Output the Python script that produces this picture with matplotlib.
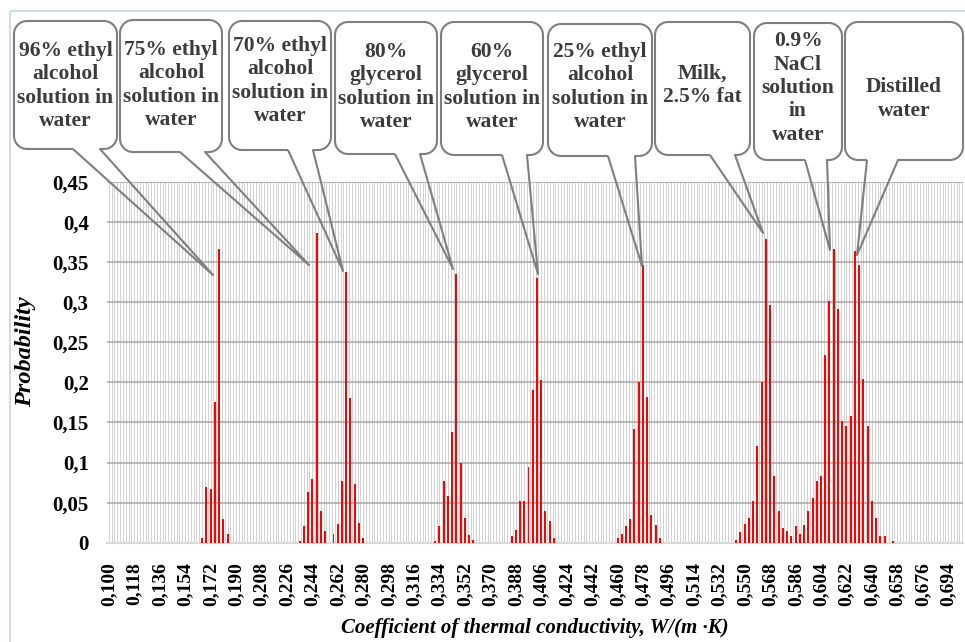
import numpy as np
import matplotlib

matplotlib.use("Agg")

import matplotlib.pyplot as plt
from matplotlib.path import Path
from matplotlib.patches import PathPatch, Rectangle
from matplotlib.ticker import MultipleLocator
import matplotlib.transforms as mtransforms

plt.rcParams["font.family"] = ["Liberation Serif", "DejaVu Serif"]
plt.rcParams["font.weight"] = "bold"

W, H = 965, 642

# histogram bins (thermal conductivity, W/(m K)) and probabilities
alc96_x = [0.166, 0.169, 0.172, 0.175, 0.178, 0.181, 0.184]
alc96_p = [0.0055, 0.070, 0.067, 0.175, 0.366, 0.029, 0.0105]

alc75_x = [0.235, 0.238, 0.241, 0.244, 0.247, 0.250, 0.253]
alc75_p = [0.002, 0.021, 0.063, 0.079, 0.386, 0.039, 0.015]

alc70_x = [0.259, 0.262, 0.265, 0.268, 0.271, 0.274, 0.277, 0.280]
alc70_p = [0.0105, 0.023, 0.077, 0.338, 0.181, 0.073, 0.025, 0.0055]

gly80_x = [0.331, 0.334, 0.337, 0.340, 0.343, 0.346, 0.349, 0.352, 0.355, 0.358]
gly80_p = [0.002, 0.021, 0.077, 0.058, 0.138, 0.335, 0.099, 0.031, 0.010, 0.003]

gly60_x = [0.385, 0.388, 0.391, 0.394, 0.397, 0.400, 0.403, 0.406, 0.409, 0.412, 0.415]
gly60_p = [0.0085, 0.016, 0.052, 0.052, 0.094, 0.190, 0.330, 0.2025, 0.0395, 0.027, 0.006]

alc25_x = [0.460, 0.463, 0.466, 0.469, 0.472, 0.475, 0.478, 0.481, 0.484, 0.487, 0.490]
alc25_p = [0.006, 0.0105, 0.021, 0.030, 0.142, 0.200, 0.346, 0.182, 0.0345, 0.0225, 0.006]

milk_x = [0.544, 0.547, 0.550, 0.553, 0.556, 0.559, 0.562, 0.565, 0.568, 0.571,
          0.574, 0.577, 0.580, 0.583]
milk_p = [0.0034, 0.013, 0.023, 0.031, 0.0516, 0.121, 0.200, 0.3795, 0.296, 0.083,
          0.039, 0.018, 0.014, 0.008]

# 0.9% NaCl and distilled water overlap into one cluster
water_x = [0.586, 0.589, 0.592, 0.595, 0.598, 0.601, 0.604, 0.607, 0.610, 0.613,
           0.616, 0.619, 0.622, 0.625, 0.628, 0.631, 0.634, 0.637, 0.640, 0.643,
           0.646, 0.649, 0.655]
water_p = [0.021, 0.0105, 0.022, 0.039, 0.056, 0.077, 0.083, 0.234, 0.302, 0.3666,
           0.292, 0.152, 0.1455, 0.158, 0.3633, 0.3463, 0.204, 0.1455, 0.0516, 0.031,
           0.008, 0.008, 0.002]

y_ticks = [0, 0.05, 0.1, 0.15, 0.2, 0.25, 0.3, 0.35, 0.4, 0.45]
y_labels = ["0", "0,05", "0,1", "0,15", "0,2", "0,25", "0,3", "0,35", "0,4", "0,45"]

x_ticks = [0.100, 0.118, 0.136, 0.154, 0.172, 0.190, 0.208, 0.226, 0.244, 0.262,
           0.280, 0.298, 0.316, 0.334, 0.352, 0.370, 0.388, 0.406, 0.424, 0.442,
           0.460, 0.478, 0.496, 0.514, 0.532, 0.550, 0.568, 0.586, 0.604, 0.622,
           0.640, 0.658, 0.676, 0.694]
x_labels = [f"{v:.3f}".replace(".", ",") for v in x_ticks]

# callouts: text, box (x0, y0, x1, y1) in pixels from top-left, tail base, tail tip, text y
callouts = [
    ("96% ethyl\nalcohol\nsolution in\nwater", (14, 21, 117, 149), (73, 100), (213, 275), 86),
    ("75% ethyl\nalcohol\nsolution in\nwater", (120, 20, 222, 152), (180, 205), (309, 265), 85),
    ("70% ethyl\nalcohol\nsolution in\nwater", (229, 21, 331, 150), (288, 313), (343, 271), 81),
    ("80%\nglycerol\nsolution in\nwater", (335, 22, 437, 154), (395, 420), (453, 269), 87),
    ("60%\nglycerol\nsolution in\nwater", (441, 22, 543, 155), (502, 527), (538, 274), 87),
    ("25% ethyl\nalcohol\nsolution in\nwater", (548, 24, 652, 156), (608, 635), (642, 266), 87),
    ("Milk,\n2.5% fat", (655, 22, 750, 155), (710, 735), (763, 233), 85),
    ("0.9%\nNaCl\nsolution\nin\nwater", (754, 23, 842, 160), (805, 827), (830, 250), 88),
    ("Distilled\nwater", (845, 22, 963, 160), (867, 898), (857, 255), 99),
]

fig = plt.figure(figsize=(W / 100, H / 100), dpi=100)
ax = fig.add_axes([106.7 / W, 1 - 542.7 / H, (963 - 106.7) / W, (542.7 - 182) / H])

for xs, ps in [(alc96_x, alc96_p), (alc75_x, alc75_p), (alc70_x, alc70_p),
               (gly80_x, gly80_p), (gly60_x, gly60_p), (alc25_x, alc25_p),
               (milk_x, milk_p), (water_x, water_p)]:
    ax.bar(xs, ps, width=0.0014, color="#ff0000", linewidth=0, zorder=3)

ax.set_xlim(0.0985, 0.7045)
ax.set_ylim(0, 0.45)
ax.set_axisbelow(True)

ax.set_yticks(y_ticks)
ax.set_yticklabels(y_labels, fontsize=15)
ax.set_xticks(x_ticks)
ax.set_xticklabels(x_labels, fontsize=14, rotation=90)
ax.xaxis.set_minor_locator(MultipleLocator(0.002))
ax.tick_params(axis="y", length=0, pad=13)
ax.tick_params(axis="x", which="both", length=0, pad=14)

ax.grid(axis="y", color="#a6a6a6", linewidth=1.1)
ax.grid(axis="x", which="both", color="#d2d2d2", linewidth=0.75)

for side in ["top", "right", "left"]:
    ax.spines[side].set_visible(False)
ax.spines["bottom"].set_color("#d9d9d9")
ax.spines["bottom"].set_linewidth(1.5)

ax.set_ylabel("Probability", fontsize=17.5, style="italic", fontweight="bold")
ax.yaxis.set_label_coords(-0.083, 0.53)
fig.text(535 / W, 1 - 628 / H, "Coefficient of thermal conductivity, W/(m \u00b7K)",
         fontsize=15, style="italic", fontweight="bold", ha="center", va="center")

# pixel coordinates (origin top-left) to figure
pix = mtransforms.Affine2D().scale(1 / W, -1 / H).translate(0, 1) + fig.transFigure

fig.add_artist(Rectangle((10, 11), 1000, 700, transform=pix, fill=False,
                         edgecolor="#c6d4ea", linewidth=1.2))


def arc(cx, cy, r, a0, a1):
    t = np.radians(np.linspace(a0, a1, 10))
    return list(zip(cx + r * np.cos(t), cy + r * np.sin(t)))


def add_callout(text, box, base, tip, ty, r=13):
    x0, y0, x1, y1 = box
    ba, bb = base
    # white box without edge, then the outline with its open tail
    outline = [(ba, y1)]
    outline += arc(x0 + r, y1 - r, r, 90, 180)
    outline += arc(x0 + r, y0 + r, r, 180, 270)
    outline += arc(x1 - r, y0 + r, r, 270, 360)
    outline += arc(x1 - r, y1 - r, r, 0, 90)
    outline += [(bb, y1)]
    fill = PathPatch(Path(outline + [(ba, y1)]), transform=pix, facecolor="white",
                     edgecolor="none", zorder=5)
    fig.add_artist(fill)
    line = PathPatch(Path(outline + [tip, (ba, y1)]), transform=pix, fill=False,
                     edgecolor="#7f7f7f", linewidth=1.5, joinstyle="round", zorder=6)
    fig.add_artist(line)
    fig.text((x0 + x1) / 2 / W, 1 - ty / H, text, fontsize=15.5, fontweight="bold",
             color="#3c3c3c", ha="center", va="center", multialignment="center",
             linespacing=1.22, zorder=7)


for c in callouts:
    add_callout(*c)

fig.savefig("out.png", dpi=100)
